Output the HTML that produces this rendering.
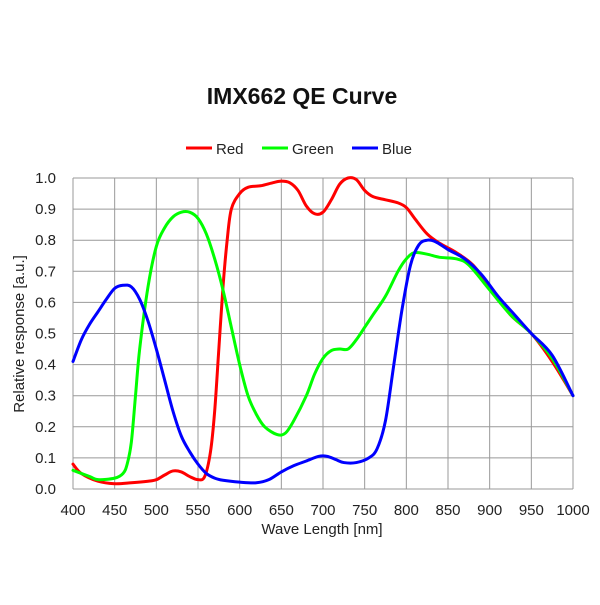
<!DOCTYPE html>
<html><head><style>
body{margin:0;background:#fff;}
svg text{font-family:"Liberation Sans",sans-serif;fill:#222;}
</style></head><body>
<svg id="s" width="600" height="600" xmlns="http://www.w3.org/2000/svg">
<text x="302" y="104" text-anchor="middle" font-size="23" font-weight="bold" style="fill:#111">IMX662 QE Curve</text>
<line x1="186" y1="148" x2="212" y2="148" stroke="#f00" stroke-width="3"/>
<text x="216" y="154" font-size="15">Red</text>
<line x1="262" y1="148" x2="288" y2="148" stroke="#0f0" stroke-width="3"/>
<text x="292" y="154" font-size="15">Green</text>
<line x1="352" y1="148" x2="378" y2="148" stroke="#00f" stroke-width="3"/>
<text x="382" y="154" font-size="15">Blue</text>
<g id="grid" stroke="#999" stroke-width="1" fill="none"></g>
<g id="labels" font-size="15"></g>
<text x="322" y="534" text-anchor="middle" font-size="15">Wave Length [nm]</text>
<text transform="translate(24,334) rotate(-90)" text-anchor="middle" font-size="15">Relative response [a.u.]</text>
<g id="curves" fill="none" stroke-width="3" stroke-linejoin="round" stroke-linecap="round"></g>
</svg>
<script>
const X=w=>73+(w-400)*500/600, Y=v=>489-v*311;
const NS="http://www.w3.org/2000/svg";
const g=document.getElementById('grid'), lb=document.getElementById('labels'), cv=document.getElementById('curves');
function el(p,t,a,txt){const e=document.createElementNS(NS,t);for(const k in a)e.setAttribute(k,a[k]);if(txt!=null)e.textContent=txt;p.appendChild(e);return e;}
for(let w=400;w<=1000;w+=50){el(g,'line',{x1:X(w),y1:Y(0),x2:X(w),y2:Y(1)});el(lb,'text',{x:X(w),y:515,'text-anchor':'middle'},w);}
for(let i=0;i<=10;i++){const v=i/10;el(g,'line',{x1:X(400),y1:Y(v),x2:X(1000),y2:Y(v)});el(lb,'text',{x:56,y:Y(v)+5,'text-anchor':'end'},v.toFixed(1));}
const R=[[400,.08],[410,.05],[430,.025],[450,.017],[470,.02],[490,.025],[500,.03],[510,.045],[520,.058],[530,.055],[540,.04],[550,.03],[558,.04],[565,.12],[570,.25],[575,.45],[580,.65],[585,.8],[590,.9],[600,.95],[610,.97],[625,.975],[640,.985],[650,.99],[660,.985],[670,.96],[680,.91],[690,.885],[700,.89],[710,.93],[720,.98],[730,1.0],[740,.995],[750,.96],[760,.94],[775,.93],[790,.92],[800,.905],[810,.87],[825,.82],[840,.79],[860,.76],[880,.72],[900,.65],[925,.56],[950,.5],[975,.41],[1000,.3]];
const G=[[400,.06],[420,.04],[430,.03],[450,.035],[460,.05],[465,.08],[470,.15],[475,.3],[480,.45],[490,.65],[500,.78],[510,.84],[520,.875],[530,.89],[540,.89],[550,.87],[560,.82],[570,.74],[580,.64],[590,.52],[600,.4],[610,.3],[620,.24],[630,.2],[645,.175],[655,.18],[665,.22],[680,.3],[690,.37],[700,.42],[710,.445],[720,.45],[730,.45],[740,.48],[750,.52],[760,.56],[775,.62],[790,.7],[800,.74],[810,.76],[825,.755],[840,.745],[860,.74],[875,.72],[900,.64],[925,.56],[950,.5],[975,.42],[1000,.3]];
const B=[[400,.41],[410,.48],[420,.53],[430,.57],[440,.61],[450,.645],[460,.655],[470,.65],[480,.61],[490,.54],[500,.45],[510,.35],[520,.25],[530,.17],[540,.12],[550,.08],[560,.05],[570,.035],[580,.028],[600,.022],[620,.02],[635,.03],[650,.055],[665,.075],[680,.09],[695,.105],[705,.105],[715,.095],[725,.085],[740,.085],[755,.1],[765,.13],[775,.22],[785,.4],[795,.58],[805,.72],[815,.785],[825,.8],[835,.795],[850,.77],[870,.74],[890,.69],[910,.62],[930,.56],[950,.5],[975,.43],[1000,.3]];
function path(d){const p=d.map(a=>[X(a[0]),Y(a[1])]);let s=`M${p[0][0]},${p[0][1]}`;
for(let i=0;i<p.length-1;i++){const p0=p[i-1]||p[i],p1=p[i],p2=p[i+1],p3=p[i+2]||p2;
s+=`C${p1[0]+(p2[0]-p0[0])/6},${p1[1]+(p2[1]-p0[1])/6} ${p2[0]-(p3[0]-p1[0])/6},${p2[1]-(p3[1]-p1[1])/6} ${p2[0]},${p2[1]}`;}return s;}
el(cv,'path',{d:path(R),stroke:'#f00'});
el(cv,'path',{d:path(G),stroke:'#0f0'});
el(cv,'path',{d:path(B),stroke:'#00f'});
</script>
</body></html>
